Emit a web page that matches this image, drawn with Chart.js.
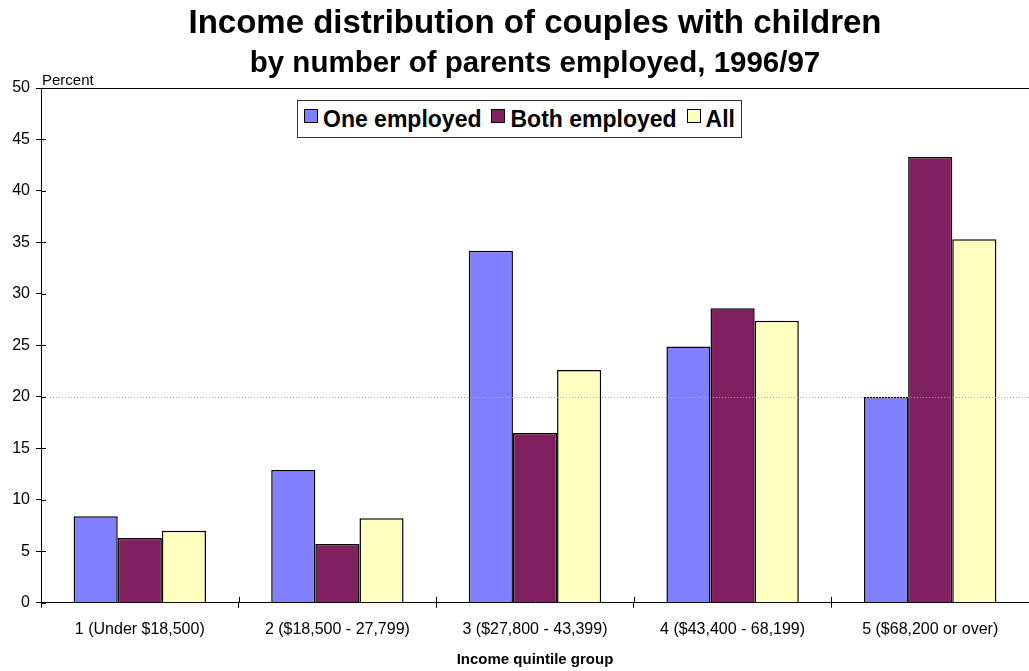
<!DOCTYPE html>
<html>
<head>
<meta charset="utf-8">
<script src="https://cdn.jsdelivr.net/npm/chart.js@4.4.1/dist/chart.umd.min.js"></script>
<style>
html,body{margin:0;padding:0;background:#fff;}
#wrap{position:relative;width:1029px;height:671px;}
#legend{position:absolute;left:297px;top:100px;height:38px;border:1px solid #333;background:#fff;
 display:flex;align-items:center;padding:0 6px 0 6px;font-family:"Liberation Sans",Arial,sans-serif;font-weight:bold;font-size:23px;color:#000;box-sizing:border-box;}
#legend .it{display:flex;align-items:center;margin-right:10px;}
#legend .it:last-child{margin-right:0;}
#legend .sw{width:14px;height:14px;border:1.5px solid #000;margin-right:5px;box-sizing:border-box;margin-top:-7px;}
</style>
</head>
<body>
<div id="wrap">
<canvas id="c" width="1029" height="671"></canvas>
<div id="legend"></div>
</div>
<script>
const categories = ["1 (Under $18,500)", "2 ($18,500 - 27,799)", "3 ($27,800 - 43,399)", "4 ($43,400 - 68,199)", "5 ($68,200 or over)"];
const oneEmployed = [8.4, 12.9, 34.2, 24.9, 20.0];
const bothEmployed = [6.3, 5.7, 16.5, 28.6, 43.3];
const allCouples = [7.0, 8.2, 22.6, 27.4, 35.3];
const seriesNames = ["One employed", "Both employed", "All"];
const seriesColors = ["#8080FF", "#802060", "#FFFFC0"];
const yTicks = [0, 5, 10, 15, 20, 25, 30, 35, 40, 45, 50];

const FONT = '"Liberation Sans", Arial, sans-serif';

const extras = {
  id: 'extras',
  afterDraw(chart) {
    const ctx = chart.ctx, a = chart.chartArea;
    const y = chart.scales.y, x = chart.scales.x;
    ctx.save();
    ctx.strokeStyle = '#aaa'; ctx.lineWidth = 1; ctx.setLineDash([1, 2]);
    const y20 = Math.round(y.getPixelForValue(20)) + 0.5;
    ctx.beginPath(); ctx.moveTo(a.left + 9, y20); ctx.lineTo(a.right, y20); ctx.stroke();
    ctx.setLineDash([]);
    ctx.strokeStyle = '#000';
    const y50 = Math.round(y.getPixelForValue(50)) + 0.5;
    ctx.beginPath(); ctx.moveTo(a.left, y50); ctx.lineTo(a.right, y50); ctx.stroke();
    ctx.beginPath();
    yTicks.forEach(v => { const p = Math.round(y.getPixelForValue(v)) + 0.5; ctx.moveTo(a.left, p); ctx.lineTo(a.left + 5, p); });
    for (let i = 1; i < categories.length; i++) {
      const p = Math.round((x.getPixelForValue(i - 1) + x.getPixelForValue(i)) / 2) + 0.5;
      ctx.moveTo(p, a.bottom); ctx.lineTo(p, a.bottom - 6);
    }
    ctx.stroke();
    ctx.fillStyle = '#000'; ctx.font = '15px ' + FONT; ctx.textAlign = 'left'; ctx.textBaseline = 'alphabetic';
    ctx.fillText('Percent', a.left + 1, a.top - 3);
    ctx.restore();
  }
};

const datasets = [oneEmployed, bothEmployed, allCouples].map((d, i) => ({
  label: seriesNames[i], data: d, backgroundColor: seriesColors[i], borderColor: '#000', borderWidth: 1.5,
  categoryPercentage: 0.67, barPercentage: 1.0
}));

new Chart(document.getElementById('c'), {
  type: 'bar',
  data: { labels: categories, datasets },
  options: {
    responsive: false, animation: false,
    layout: { padding: { left: 0, right: 0, top: 0, bottom: 0 } },
    plugins: {
      legend: { display: false },
      tooltip: { enabled: false },
      title: { display: true, fullSize: false, text: 'Income distribution of couples with children', color: '#000',
        font: { family: FONT, size: 33, weight: 'bold' }, padding: { top: 4, bottom: 3 } },
      subtitle: { display: true, fullSize: false, text: 'by number of parents employed, 1996/97', color: '#000',
        font: { family: FONT, size: 29.5, weight: 'bold' }, padding: { top: 0, bottom: 6 } }
    },
    scales: {
      x: {
        grid: { display: true, drawOnChartArea: false, offset: true, tickLength: 5, tickColor: '#000', lineWidth: 1 },
        border: { color: '#000', width: 1 },
        ticks: { color: '#000', font: { family: FONT, size: 16 }, padding: 12, maxRotation: 0 },
        title: { display: true, text: 'Income quintile group', color: '#000', font: { family: FONT, size: 15, weight: 'bold' }, padding: { top: 0, bottom: 2 } }
      },
      y: {
        min: 0, max: 50, afterBuildTicks: s => { s.ticks = yTicks.map(v => ({ value: v })); },
        grid: { display: true, drawOnChartArea: false, tickLength: 5, tickColor: '#000' },
        border: { color: '#000', width: 1 },
        ticks: { color: '#000', font: { family: FONT, size: 16 }, padding: 6 },
        afterFit: s => { s.width = 41; }
      }
    }
  },
  plugins: [extras]
});

const lg = document.getElementById('legend');
seriesNames.forEach((n, i) => {
  const it = document.createElement('div'); it.className = 'it';
  const sw = document.createElement('span'); sw.className = 'sw'; sw.style.background = seriesColors[i];
  const t = document.createElement('span'); t.textContent = n;
  it.appendChild(sw); it.appendChild(t); lg.appendChild(it);
});
</script>
</body>
</html>
